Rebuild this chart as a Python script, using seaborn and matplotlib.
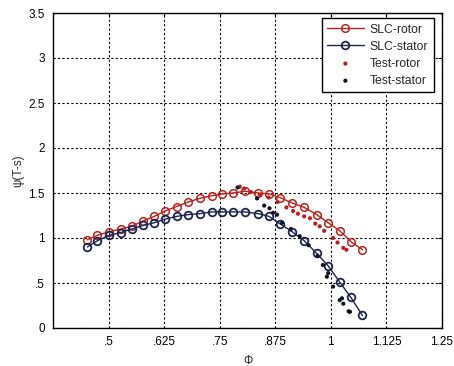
import matplotlib
matplotlib.use("Agg")
import matplotlib.pyplot as plt
import seaborn as sns
import numpy as np
from matplotlib.ticker import FixedLocator, FixedFormatter

# ---- data ----
phi_slc = [0.452, 0.475, 0.502, 0.527, 0.552, 0.578, 0.603, 0.627, 0.653, 0.679,
           0.705, 0.732, 0.756, 0.780, 0.807, 0.837, 0.861, 0.885, 0.913, 0.940,
           0.968, 0.994, 1.020, 1.045, 1.071]
psi_slc_rotor = [0.98, 1.03, 1.07, 1.10, 1.13, 1.19, 1.24, 1.30, 1.35, 1.40,
                 1.44, 1.47, 1.49, 1.50, 1.52, 1.50, 1.49, 1.45, 1.39, 1.34,
                 1.26, 1.17, 1.08, 0.96, 0.87]
psi_slc_stator = [0.90, 0.97, 1.03, 1.06, 1.10, 1.14, 1.17, 1.21, 1.24, 1.26,
                  1.27, 1.29, 1.29, 1.29, 1.29, 1.27, 1.24, 1.16, 1.07, 0.97,
                  0.83, 0.69, 0.51, 0.34, 0.14]

phi_test_rotor = [0.795, 0.805, 0.82, 0.84, 0.86, 0.88, 0.90, 0.915, 0.926, 0.94,
                  0.953, 0.965, 0.975, 0.985, 1.005, 1.015, 1.028, 1.035]
psi_test_rotor = [1.57, 1.55, 1.51, 1.48, 1.45, 1.40, 1.34, 1.30, 1.27, 1.24,
                  1.22, 1.16, 1.13, 1.08, 1.00, 0.95, 0.89, 0.87]

phi_test_stator = [0.79, 0.834, 0.85, 0.862, 0.87, 0.879, 0.89, 0.91, 0.93, 0.95,
                   0.97, 0.982, 0.991, 0.994, 1.005, 1.02, 1.025, 1.028, 1.04, 1.043]
psi_test_stator = [1.56, 1.44, 1.36, 1.33, 1.28, 1.26, 1.17, 1.10, 1.02, 0.92,
                   0.80, 0.70, 0.57, 0.61, 0.46, 0.31, 0.33, 0.27, 0.185, 0.18]

x_ticks = [0.5, 0.625, 0.75, 0.875, 1.0, 1.125, 1.25]
x_labels = [".5", ".625", ".75", ".875", "1", "1.125", "1.25"]
y_ticks = [0, 0.5, 1, 1.5, 2, 2.5, 3, 3.5]
y_labels = ["0", ".5", "1", "1.5", "2", "2.5", "3", "3.5"]

# ---- style ----
sns.set_theme(style="white")
plt.rcParams['font.family'] = ['Liberation Sans', 'DejaVu Sans']
plt.rcParams['font.size'] = 8

red = "#b8221c"
navy = "#1c2550"

fig = plt.figure(figsize=(4.54, 3.66), dpi=100)
ax = fig.add_axes([53/454, 1-328/366, (442-53)/454, (328-13)/366])

sns.lineplot(x=phi_slc, y=psi_slc_rotor, ax=ax, sort=False, color=red, lw=1.0,
             marker='o', markersize=5.5, markerfacecolor='none', markeredgecolor=red,
             markeredgewidth=1.1, label="SLC-rotor")
sns.lineplot(x=phi_slc, y=psi_slc_stator, ax=ax, sort=False, color=navy, lw=1.0,
             marker='o', markersize=5.5, markerfacecolor='none', markeredgecolor=navy,
             markeredgewidth=1.3, label="SLC-stator")
sns.scatterplot(x=phi_test_rotor, y=psi_test_rotor, ax=ax, color=red, s=9,
                edgecolor='none', label="Test-rotor", zorder=3)
sns.scatterplot(x=phi_test_stator, y=psi_test_stator, ax=ax, color="#111122", s=9,
                edgecolor='none', label="Test-stator", zorder=3)

ax.set_xlim(0.375, 1.25)
ax.set_ylim(0, 3.5)
ax.xaxis.set_major_locator(FixedLocator(x_ticks))
ax.xaxis.set_major_formatter(FixedFormatter(x_labels))
ax.yaxis.set_major_locator(FixedLocator(y_ticks))
ax.yaxis.set_major_formatter(FixedFormatter(y_labels))

ax.grid(True, color='black', linestyle=(0, (2, 2)), linewidth=0.8)
ax.tick_params(direction='in', length=3, width=0.8, colors='black',
               top=True, right=True, labelsize=8.5, pad=6)
for s in ax.spines.values():
    s.set_color('black')
    s.set_linewidth(1.0)

ax.set_xlabel("Φ", fontsize=8.5, labelpad=5)
ax.set_ylabel("ψ(T-s)", fontsize=8.5, labelpad=3)

leg = ax.legend(loc='upper right', bbox_to_anchor=(0.979, 0.984), borderaxespad=0,
                frameon=True, fancybox=False, edgecolor='black', framealpha=1,
                fontsize=8.8, handlelength=3.0, handletextpad=0.5,
                labelspacing=0.42, borderpad=0.45)
leg.get_frame().set_linewidth(1.0)

fig.savefig("out.png", dpi=100, facecolor='white')
